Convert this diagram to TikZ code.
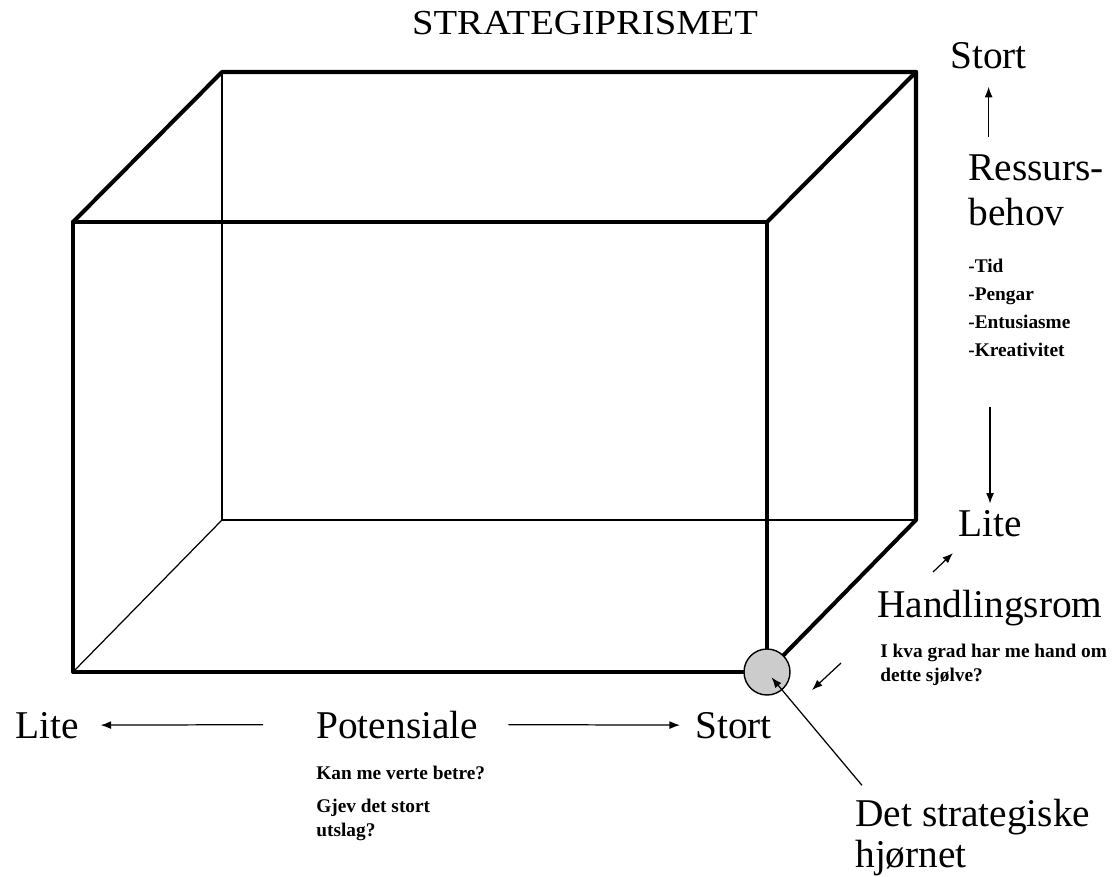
\documentclass[tikz,border=0pt]{standalone}
\usepackage{fontspec}
\setmainfont{Liberation Serif}
\usepackage{tikz}
\usetikzlibrary{arrows.meta,positioning,calc}

\tikzset{
	kant/.style={line width=2.3pt,line join=round,line cap=round},
	tynn/.style={line width=0.7pt},
	pil/.style={line width=0.7pt,-{Latex[length=6pt,width=4.5pt]}},
	stor/.style={inner sep=0pt,anchor=base west,font=\fontsize{22.4}{27}\selectfont},
	liten/.style={inner sep=0pt,anchor=base west,font=\fontsize{11}{14}\selectfont\bfseries},
}

\begin{document}
\begin{tikzpicture}[x=0.02cm,y=-0.02cm]
	\useasboundingbox (0,0) rectangle (1116,876);
	% hjornene paa prismet
	\coordinate (fTL) at (73,222);
	\coordinate (fTR) at (767,222);
	\coordinate (fBR) at (767,672);
	\coordinate (fBL) at (73,672);
	\coordinate (bTL) at (222,72);
	\coordinate (bTR) at (916,72);
	\coordinate (bBR) at (916,520);
	\coordinate (bBL) at (222,520);
	\draw[tynn] (bTL) -- (bBL) -- (bBR);
	\draw[tynn] (fBL) -- (bBL);
	\draw[kant] (fTL) -- (fTR) -- (fBR) -- (fBL) -- cycle;
	\draw[kant] (fTL) -- (bTL) -- (bTR) -- (bBR) -- (fBR);
	\draw[kant] (fTR) -- (bTR);
	\node[circle,draw,fill=gray!40,line width=0.8pt,minimum size=0.92cm,inner sep=0pt] (hjorne) at (fBR) {};

	\node[inner sep=0pt,anchor=base,xscale=1.1,font=\fontsize{20}{22}\selectfont] (tittel) at (585,34) {STRATEGIPRISMET};

	% ressursbehov
	\node[stor] (stortV) at (950,68) {Stort};
	\node[stor] (ressurs) at (968,180) {Ressurs-};
	\node[stor] (behov) at (968,225) {behov};
	\foreach \t [count=\i] in {-Tid,-Pengar,-Entusiasme,-Kreativitet}
		\node[liten] (ressurs\i) at (968,244+28*\i) {\t};
	\node[stor] (liteV) at (958,536) {Lite};
	\draw[pil,shorten <=0.34cm,shorten >=0.36cm] (stortV.south |- ressurs.north) -- (stortV.south);
	\draw[pil,shorten <=1.0cm,shorten >=0.12cm] (liteV.north |- ressurs4.south) -- (liteV.north);

	% handlingsrom
	\node[stor] (handling) at (877,617) {Handlingsrom};
	\node[liten] (kva1) at (880,657) {I kva grad har me hand om};
	\node[liten] (kva2) at (880,681) {dette sjølve?};
	\coordinate (hpilA) at (933,572);
	\coordinate (hpilB) at (953,553);
	\coordinate (hpilC) at (841,663);
	\coordinate (hpilD) at (812,690);
	\draw[pil] (hpilA) -- (hpilB);
	\draw[pil] (hpilC) -- (hpilD);

	% potensiale
	\node[stor] (liteH) at (15,738) {Lite};
	\node[stor] (potensiale) at (316,738) {Potensiale};
	\node[stor] (stortH) at (695,738) {Stort};
	\node[liten] (kan) at (316,779) {Kan me verte betre?};
	\node[liten] (gjev1) at (316,812) {Gjev det stort};
	\node[liten] (gjev2) at (316,836) {utslag?};
	\draw[pil,shorten <=1.06cm,shorten >=0.43cm] (potensiale.west) -- (liteH.east);
	\draw[pil,shorten <=0.6cm,shorten >=0.3cm] (potensiale.east) -- (stortH.west);

	% det strategiske hjornet
	\node[stor] (detstrat) at (855,826) {Det strategiske};
	\node[stor] (hjornet) at (855,867) {hjørnet};
	\draw[pil,shorten >=0.14cm] ($(detstrat.north west)+(7,-13)$) -- (hjorne.center);
\end{tikzpicture}
\end{document}
